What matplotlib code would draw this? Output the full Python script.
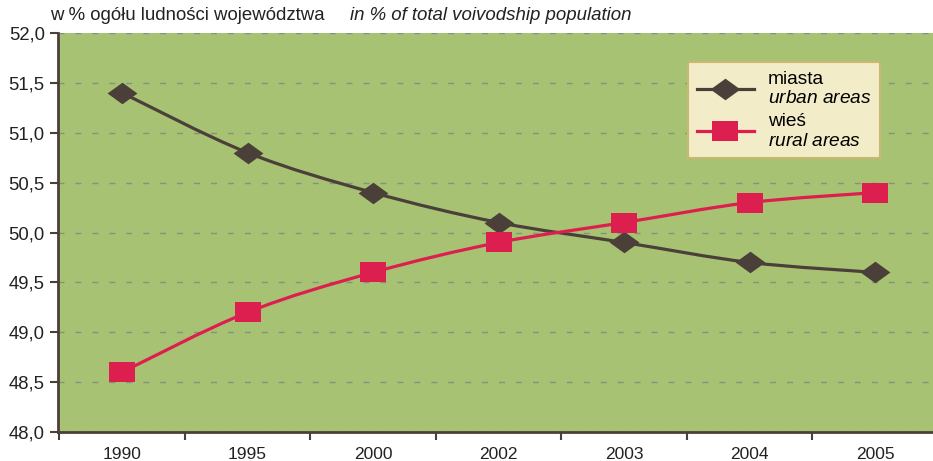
import matplotlib.pyplot as plt
from matplotlib.lines import Line2D
from matplotlib.path import Path
from matplotlib.patches import PathPatch

years = ['1990', '1995', '2000', '2002', '2003', '2004', '2005']
urban = [51.4, 50.8, 50.4, 50.1, 49.9, 49.7, 49.6]
rural = [48.6, 49.2, 49.6, 49.9, 50.1, 50.3, 50.4]
y_ticks = [48.0, 48.5, 49.0, 49.5, 50.0, 50.5, 51.0, 51.5, 52.0]

URBAN_COLOR = '#4b4039'
RURAL_COLOR = '#dc1f4e'
BG = '#a8c274'

plt.rcParams['font.family'] = ['Liberation Sans', 'DejaVu Sans']
plt.rcParams['mathtext.fontset'] = 'custom'
plt.rcParams['mathtext.rm'] = 'Liberation Sans'
plt.rcParams['mathtext.it'] = 'Liberation Sans:italic'

# flattened diamond and wide square, like the original
DIAMOND = [(-14.5, 0), (0, 10.5), (14.5, 0), (0, -10.5), (-14.5, 0)]
RECT = [(-13, -10), (13, -10), (13, 10), (-13, 10), (-13, -10)]


def smooth_path(xs, ys):
    # catmull-rom style bezier through the points (excel "smoothed line")
    verts = [(xs[0], ys[0])]
    codes = [Path.MOVETO]
    n = len(xs)
    for i in range(n - 1):
        x0, y0 = (xs[i - 1], ys[i - 1]) if i > 0 else (xs[i], ys[i])
        x1, y1 = xs[i], ys[i]
        x2, y2 = xs[i + 1], ys[i + 1]
        x3, y3 = (xs[i + 2], ys[i + 2]) if i + 2 < n else (x2, y2)
        c1 = (x1 + (x2 - x0) / 6, y1 + (y2 - y0) / 6)
        c2 = (x2 - (x3 - x1) / 6, y2 - (y3 - y1) / 6)
        verts += [c1, c2, (x2, y2)]
        codes += [Path.CURVE4] * 3
    return Path(verts, codes)


fig = plt.figure(figsize=(9.33, 4.61), dpi=100)
ax = fig.add_axes([58 / 933, 1 - 432 / 461, 1 - 58 / 933, (432 - 33) / 461])
ax.set_facecolor(BG)

x = list(range(len(years)))
for vals, color, mk, ms in [(urban, URBAN_COLOR, DIAMOND, 21.5),
                            (rural, RURAL_COLOR, RECT, 19.0)]:
    ax.add_patch(PathPatch(smooth_path(x, vals), fill=False, ec=color,
                           lw=2.3, zorder=3, capstyle='round'))
    ax.plot(x, vals, ls='none', marker=mk, ms=ms, mfc=color, mec=color,
            mew=0, zorder=4)

ax.set_xlim(-0.51, 6.46)
ax.set_ylim(48.0, 52.0)
ax.set_yticks(y_ticks)
ax.set_yticklabels([f'{v:.1f}'.replace('.', ',') for v in y_ticks])
ax.set_xticks(x)
ax.set_xticklabels(years)
ax.set_xticks([i - 0.5 for i in range(len(years))], minor=True)
ax.tick_params(axis='x', which='major', length=0, labelsize=12.5, pad=11)
ax.tick_params(axis='x', which='minor', length=6, width=1.5)
ax.tick_params(axis='y', length=6, width=1.5, labelsize=13.3)
ax.tick_params(axis='both', which='both', color=URBAN_COLOR, labelcolor='#222222')

ax.yaxis.grid(True, ls=(0, (4.3, 7.9)), color='#84937a', lw=1.0)
ax.set_axisbelow(True)
for s in ['top', 'right']:
    ax.spines[s].set_visible(False)
for s in ['left', 'bottom']:
    ax.spines[s].set_color(URBAN_COLOR)
    ax.spines[s].set_linewidth(2)

fig.text(50 / 933, 1 - 15 / 461, 'w % ogółu ludności województwa', fontsize=13.4,
         va='center', ha='left', color='#222222')
fig.text(350 / 933, 1 - 15 / 461, 'in % of total voivodship population', fontsize=13.4,
         va='center', ha='left', style='italic', color='#222222')

handles = [
    Line2D([], [], color=URBAN_COLOR, lw=2.3, marker=DIAMOND, ms=21.5, mew=0),
    Line2D([], [], color=RURAL_COLOR, lw=2.3, marker=RECT, ms=19.0, mew=0),
]
labels = ['miasta\n$\\it{urban\\ areas}$', 'wieś\n$\\it{rural\\ areas}$']
leg = fig.legend(handles, labels, loc='upper left',
                 bbox_to_anchor=(688 / 933, 1 - 62 / 461),
                 fontsize=13.8, frameon=True, fancybox=False, handlelength=3.0,
                 labelspacing=0.3, borderpad=0.45, handletextpad=0.7,
                 borderaxespad=0)
leg.get_frame().set_facecolor('#f3ecc8')
leg.get_frame().set_edgecolor('#c9b870')
leg.get_frame().set_linewidth(1.5)
leg.get_frame().set_alpha(1)

fig.savefig('out.png', dpi=100)
